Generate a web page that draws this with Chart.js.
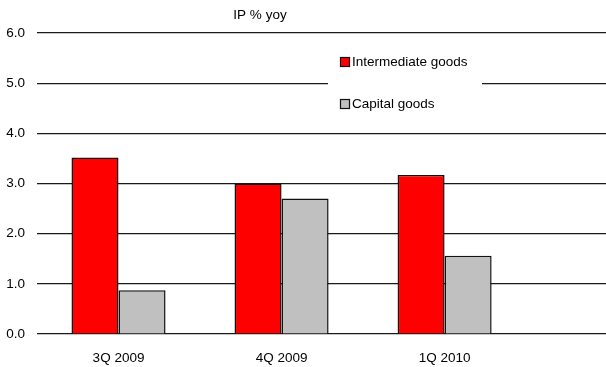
<!DOCTYPE html>
<html>
<head>
<meta charset="utf-8">
<script src="https://cdn.jsdelivr.net/npm/chart.js@4.4.1/dist/chart.umd.min.js"></script>
<style>
  html, body { margin: 0; padding: 0; background: #fff; }
  #wrap { width: 606px; height: 367px; }
</style>
</head>
<body>
<div id="wrap"><canvas id="ipChart" width="606" height="367"></canvas></div>
<script>
const quarters = ['3Q 2009', '4Q 2009', '1Q 2010'];
const intermediateGoods = [3.52, 3.0, 3.17];
const capitalGoods = [0.87, 2.7, 1.56];
const yTicks = [0, 1, 2, 3, 4, 5, 6];

const FONT = 'Liberation Sans, Arial, sans-serif';

// title and in-plot legend drawn straight onto the canvas
const overlay = {
  id: 'overlay',
  afterDraw(chart) {
    const ctx = chart.ctx;
    const y = chart.scales.y;
    ctx.save();
    ctx.font = '13.5px ' + FONT;
    ctx.fillStyle = '#000';
    ctx.textBaseline = 'middle';
    ctx.textAlign = 'center';
    ctx.fillText('IP % yoy', 260, 15);

    // white box behind the legend hides the gridline there
    const boxLeft = 328, boxRight = 482;
    ctx.fillStyle = '#fff';
    ctx.fillRect(boxLeft, y.getPixelForValue(5.75), boxRight - boxLeft,
      y.getPixelForValue(4.22) - y.getPixelForValue(5.75));

    const rows = [
      { ds: chart.data.datasets[0], v: 5.43 },
      { ds: chart.data.datasets[1], v: 4.58 }
    ];
    ctx.textAlign = 'left';
    rows.forEach(r => {
      const cy = Math.round(y.getPixelForValue(r.v));
      ctx.fillStyle = r.ds.backgroundColor;
      ctx.fillRect(340.5, cy - 4.5, 9, 9);
      ctx.strokeStyle = '#111';
      ctx.lineWidth = 1.2;
      ctx.strokeRect(340.5, cy - 4.5, 9, 9);
      ctx.fillStyle = '#000';
      ctx.fillText(r.ds.label, 352, cy + 0.5);
    });
    ctx.restore();
  }
};

new Chart(document.getElementById('ipChart'), {
  type: 'bar',
  data: {
    datasets: [
      {
        label: 'Intermediate goods',
        data: intermediateGoods.map((v, i) => ({ x: i, y: v })),
        backgroundColor: '#FF0000',
        borderColor: '#111',
        borderWidth: 1.5,
        categoryPercentage: 0.577,
        barPercentage: 1.0
      },
      {
        label: 'Capital goods',
        data: capitalGoods.map((v, i) => ({ x: i, y: v })),
        backgroundColor: '#C0C0C0',
        borderColor: '#111',
        borderWidth: 1.5,
        categoryPercentage: 0.577,
        barPercentage: 1.0
      }
    ]
  },
  options: {
    responsive: false,
    animation: false,
    layout: { padding: { top: 33, right: 0, left: 0, bottom: 0 } },
    plugins: {
      legend: { display: false },
      title: { display: false },
      tooltip: { enabled: false }
    },
    scales: {
      x: {
        type: 'linear',
        offset: false,
        min: -0.5,
        max: 2.99,
        afterBuildTicks: scale => { scale.ticks = quarters.map((q, i) => ({ value: i })); },
        afterFit: scale => { scale.height = 33; },
        grid: { display: false, drawTicks: false, offset: false },
        border: { display: false },
        ticks: {
          callback: v => quarters[v],
          color: '#000',
          font: { family: FONT, size: 13.5 },
          padding: 16,
          maxRotation: 0
        }
      },
      y: {
        min: 0,
        max: 6,
        afterBuildTicks: scale => { scale.ticks = yTicks.map(v => ({ value: v })); },
        afterFit: scale => { scale.width = 37; },
        grid: { color: '#1a1a1a', lineWidth: 1.2, drawTicks: false },
        border: { display: false },
        ticks: {
          callback: v => v.toFixed(1),
          color: '#000',
          font: { family: FONT, size: 13.5 },
          padding: 12
        }
      }
    }
  },
  plugins: [overlay]
});
</script>
</body>
</html>
